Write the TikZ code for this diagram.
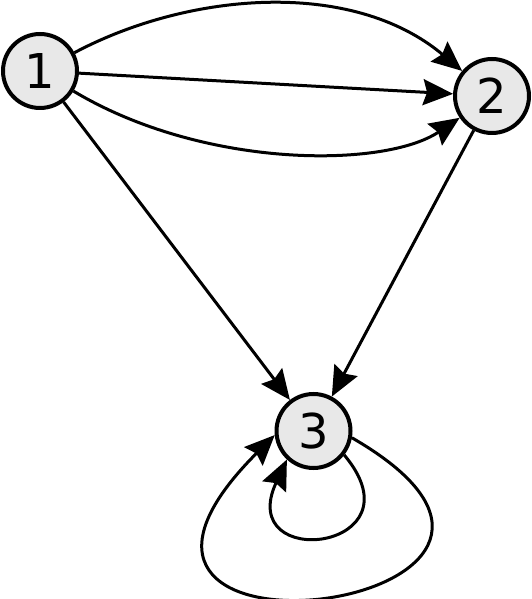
\documentclass[tikz,border=0pt]{standalone}
\usepackage{fontspec}
\setmainfont{DejaVu Sans}
\usetikzlibrary{arrows.meta}
\begin{document}
\begin{tikzpicture}[x=1pt,y=1pt,
    vertex/.style={circle,draw,line width=4pt,fill=gray!18,minimum size=74pt,inner sep=0pt,font=\fontsize{48}{48}\selectfont},
    edge/.style={draw,line width=3pt,-{Stealth[length=30pt,width=26pt,inset=4pt]}}]
        \useasboundingbox (0,0) rectangle (532,599);

        \node[vertex] (n1) at (40,528) {1};
        \node[vertex] (n2) at (492,503) {2};
        \node[vertex] (n3) at (313.5,168) {3};

        \path[edge] (n1) -- (n2);
        \path[edge] (n1) to[out=28,in=140,out looseness=0.85,in looseness=0.95] (n2);
        \path[edge] (n1) to[out=-31,in=214,out looseness=1,in looseness=0.6] (n2);
        \path[edge] (n1) -- (n3);
        \path[edge] (n2) -- (n3);

        % loops at 3
        \path[edge] (n3.-38) .. controls +(-50:125) and +(245:125) .. (n3.-133);
        \path[edge] (n3.-10) .. controls +(-30:340) and +(225:362) .. (n3.186);
    \end{tikzpicture}
\end{document}
